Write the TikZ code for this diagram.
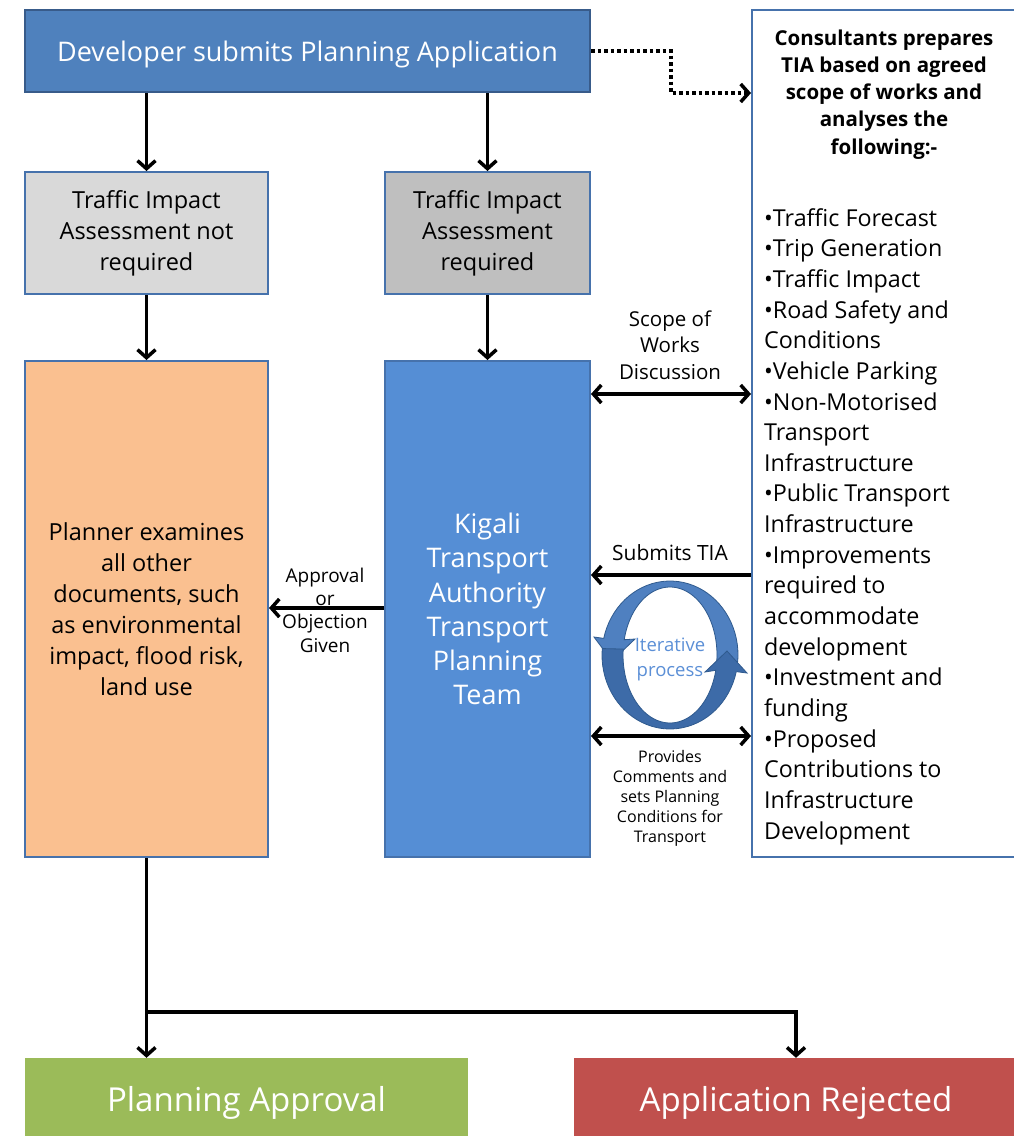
\documentclass[tikz,border=0pt]{standalone}
\usepackage{fontspec}
\setmainfont{Open Sans}
\usetikzlibrary{arrows.meta,calc}

\definecolor{topblue}{HTML}{4F81BD}
\definecolor{edgeblue}{HTML}{4672AC}
\definecolor{ktablue}{HTML}{558ED5}
\definecolor{lightgray}{HTML}{D9D9D9}
\definecolor{midgray}{HTML}{BFBFBF}
\definecolor{peach}{HTML}{FAC090}
\definecolor{okgreen}{HTML}{9BBB59}
\definecolor{nored}{HTML}{C0504D}
\definecolor{cycleA}{HTML}{4F80C0}
\definecolor{cycleB}{HTML}{3D6BA8}
\definecolor{cycleedge}{HTML}{2F5A8E}
\definecolor{itertext}{HTML}{5B8FD6}

\begin{document}
\begin{tikzpicture}[x=1pt,y=-1pt,
  box/.style={draw=edgeblue, line width=2pt, inner sep=0pt, align=center},
  endbox/.style={inner sep=0pt, align=center, text=white, font=\fontsize{33}{38}\selectfont,
                 text height=31pt, text depth=8pt},
  arr/.style={line width=3.5pt, -{Straight Barb[length=8pt,width=18pt]}},
  dblarr/.style={line width=3.5pt, {Straight Barb[length=8pt,width=18pt]}-{Straight Barb[length=8pt,width=18pt]}},
  dotarr/.style={line width=3.5pt, dash pattern=on 3.5pt off 3pt, -{Straight Barb[length=8pt,width=18pt]}},
  lbl/.style={align=center, inner sep=0pt},
  boxtext/.style={font=\fontsize{23.5}{31}\selectfont},
]
\useasboundingbox (0,0) rectangle (1014,1136);
\clip (0,0) rectangle (1014,1136);

% ---- boxes ----
\node[box, draw=edgeblue!80!black, fill=topblue, text=white, minimum width=565pt, minimum height=82pt,
      font=\fontsize{27}{30}\selectfont, text height=26.5pt, text depth=6.5pt] (dev) at (307.5,51)
      {Developer submits Planning Application};
\node[box, fill=lightgray, minimum width=243pt, minimum height=122pt, boxtext] (tianot) at (146.5,233)
      {Traffic Impact\\Assessment not\\required};
\node[box, fill=midgray, minimum width=205pt, minimum height=122pt, boxtext] (tiareq) at (487.5,233)
      {Traffic Impact\\Assessment\\required};
\node[box, fill=peach, minimum width=243pt, minimum height=496pt, boxtext] (planner) at (146.5,609)
      {Planner examines\\all other\\documents, such\\as environmental\\impact, flood risk,\\land use};
\node[box, fill=ktablue, text=white, minimum width=205pt, minimum height=496pt,
      font=\fontsize{27}{34.2}\selectfont] (kta) at (487.5,609)
      {Kigali\\Transport\\Authority\\Transport\\Planning\\Team};
\node[box, fill=white, minimum width=280pt, minimum height=847pt] (cons) at (892,433.5) {};
\node[lbl, font=\bfseries\fontsize{20.5}{27.1}\selectfont] (conshead) at (884,94.5)
      {Consultants prepares\\TIA based on agreed\\scope of works and\\analyses the\\following:-};
\node[lbl, align=left, anchor=west, font=\fontsize{23.3}{30.65}\selectfont] (conslist) at (764,526.5)
      {•Traffic Forecast\\•Trip Generation\\•Traffic Impact\\•Road Safety and\\Conditions\\•Vehicle Parking\\%
       •Non-Motorised\\Transport\\Infrastructure\\•Public Transport\\Infrastructure\\•Improvements\\%
       required to\\accommodate\\development\\•Investment and\\funding\\•Proposed\\Contributions to\\%
       Infrastructure\\Development};
\node[endbox, fill=okgreen, minimum width=443pt, minimum height=84pt] (approval) at (246.5,1100) {Planning Approval};
\node[endbox, fill=nored, minimum width=444pt, minimum height=84pt] (rejected) at (796,1100) {Application Rejected};

% ---- connector labels ----
\node[lbl, font=\fontsize{20.5}{26.5}\selectfont] (scopelbl) at (670,345) {Scope of\\Works\\Discussion};
\node[lbl, font=\fontsize{21}{24}\selectfont] (sublbl) at (670,553) {Submits TIA};
\node[lbl, font=\fontsize{19}{23.3}\selectfont] (apprlbl) at (325,610) {Approval\\or\\Objection\\Given};
\node[lbl, font=\fontsize{16}{20}\selectfont] (provlbl) at (670,798)
      {Provides\\Comments and\\sets Planning\\Conditions for\\Transport};

% ---- connectors ----
\draw[arr] (tianot.north |- dev.south) -- (tianot.north);
\draw[arr] (tiareq.north |- dev.south) -- (tiareq.north);
\draw[arr] (tianot.south) -- (planner.north);
\draw[arr] (tiareq.south) -- (kta.north);
\draw[dotarr] (dev.east) -- ++(80,0) |- (cons.west |- dev.south);
\draw[dblarr] (kta.east |- 0,394) -- (cons.west |- 0,394);
\draw[arr] (cons.west |- 0,575) -- (kta.east |- 0,575);
\draw[dblarr] (kta.east |- 0,736) -- (cons.west |- 0,736);
\draw[arr] (kta.west |- 0,608) -- (planner.east |- 0,608);
\draw[arr] (planner.south) -- (planner.south |- approval.north);
\draw[arr] (planner.south |- 0,1012) -| (rejected.north);

% ---- iterative process cycle ----
% upper arrow: tail at the right, over the top, head pointing down on the left
\filldraw[fill=cycleA, draw=cycleedge, line width=0.8pt]
  plot[domain=365:193, samples=40] ({670+68*cos(\x)},{655+74*sin(\x)})
  -- (594,637) -- (612,661) -- (635,639)
  -- plot[domain=193:365, samples=40] ({670+47*cos(\x)},{655+68*sin(\x)}) -- cycle;
% lower arrow: tail at the left, under the bottom, head pointing up on the right
\filldraw[fill=cycleB, draw=cycleedge, line width=0.8pt]
  plot[domain=185:13, samples=40] ({670+68*cos(\x)},{655+74*sin(\x)})
  -- (747,673) -- (727,651) -- (705,672)
  -- plot[domain=13:185, samples=40] ({670+47*cos(\x)},{655+68*sin(\x)}) -- cycle;
\node[lbl, text=itertext, font=\fontsize{18.5}{25}\selectfont] (iterlbl) at (670,659) {Iterative\\process};
\end{tikzpicture}
\end{document}
